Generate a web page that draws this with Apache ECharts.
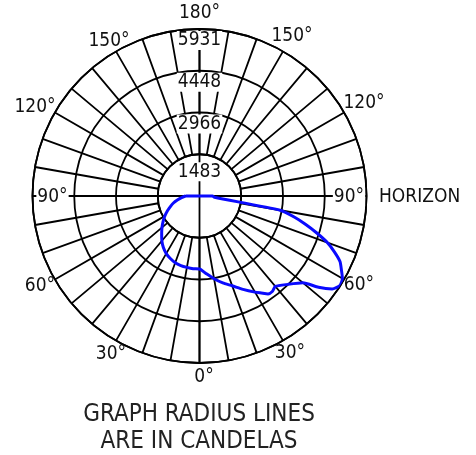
<!DOCTYPE html>
<html>
<head>
<meta charset="utf-8">
<script src="https://cdn.jsdelivr.net/npm/echarts@6/dist/echarts.min.js"></script>
<style>
  html, body { margin: 0; padding: 0; background: #fff; }
  #chart { width: 476px; height: 455px; }
</style>
</head>
<body>
<div id="chart"></div>
<script>
// Vertical angle (degrees from nadir) and luminous intensity (cd), house side (left half)
const houseAngles  = [0, 5, 10, 15, 20, 25, 30, 35, 40, 45, 50, 55, 60, 65, 70, 75, 80, 85, 90];
const houseCandela = [2593, 2593, 2575, 2557, 2522, 2451, 2362, 2237, 2078, 1900, 1740, 1580, 1421, 1261, 1101, 959, 799, 639, 497];

// Street side (right half)
const streetAngles  = [0, 5, 10, 15, 20, 25, 30, 32.5, 35, 37.5, 40, 45, 50, 52.5, 55, 57.5, 60, 62.5, 65, 67.5, 70, 72.5, 75, 77.5, 80, 85, 90];
const streetCandela = [2593, 2770, 2983, 3196, 3392, 3658, 3942, 4084, 4244, 4262, 4191, 4439, 4795, 5327, 5753, 5913, 5860, 5682, 5505, 5185, 4830, 4368, 3907, 3445, 2912, 533, 462];

// Candela rings
const ringMax = 5931;
const ringCount = 4;
const ringStep = ringMax / ringCount;

// Angle tick labels around the dial
const angleTickLabels = ['0°', '30°', '60°', '90°', '120°', '150°', '180°'];

const FONT = '"DejaVu Sans Condensed", "DejaVu Sans", sans-serif';
const INK = '#111';
const CX = 199.5, CY = 196, R = 167;
const GRID_W = 1.8;

// Closed outline: house side from horizon down to nadir, then street side back up to horizon
const outline = [];
for (let i = houseAngles.length - 1; i >= 0; i--) {
  outline.push([houseCandela[i], 360 - houseAngles[i]]);
}
for (let i = 1; i < streetAngles.length; i++) {
  outline.push([streetCandela[i], streetAngles[i]]);
}
outline.push(outline[0]);

// Where each angle label sits (index into angleTickLabels, centre x/y)
const labelSpots = [
  [6, 199.5, 13],
  [5, 109, 41], [5, 292, 36],
  [4, 35, 107], [4, 364, 103],
  [3, 52.5, 197], [3, 349, 197],
  [2, 40, 286], [2, 359, 285],
  [1, 111, 354], [1, 290, 353],
  [0, 204, 377]
];

const textEls = labelSpots.map(([k, x, y]) => ({
  type: 'text', x, y, z: 10,
  style: {
    text: angleTickLabels[k], fontSize: 19, fontFamily: FONT, fill: INK,
    align: 'center', verticalAlign: 'middle',
    backgroundColor: k === 3 ? '#fff' : null, padding: k === 3 ? [0, 1] : 0
  }
}));
textEls.push(
  { type: 'text', x: 379, y: 197, z: 10,
    style: { text: 'HORIZON', fontSize: 19, fontFamily: FONT, fill: INK, align: 'left', verticalAlign: 'middle' } },
  { type: 'text', x: 199, y: 415, z: 10,
    style: { text: 'GRAPH RADIUS LINES', fontSize: 24, fontFamily: FONT, fill: '#222', align: 'center', verticalAlign: 'middle' } },
  { type: 'text', x: 199, y: 442, z: 10,
    style: { text: 'ARE IN CANDELAS', fontSize: 24, fontFamily: FONT, fill: '#222', align: 'center', verticalAlign: 'middle' } }
);

const chart = echarts.init(document.getElementById('chart'), null, { renderer: 'canvas' });
chart.setOption({
  animation: false,
  backgroundColor: '#fff',
  polar: [
    { center: [CX, CY], radius: [R / ringCount, R] },   // dial grid: spokes start at first ring
    { center: [CX, CY], radius: [0, R] }                // intensity plot
  ],
  angleAxis: [
    {
      polarIndex: 0, type: 'value', min: 0, max: 360, interval: 10, startAngle: 90, z: 1,
      axisLine: { show: true, lineStyle: { color: '#000', width: GRID_W } },
      axisTick: { show: false }, axisLabel: { show: false },
      splitLine: { show: true, lineStyle: { color: '#000', width: GRID_W } }
    },
    {
      polarIndex: 1, type: 'value', min: 0, max: 360, interval: 90, startAngle: 270, clockwise: false, z: 1,
      axisLine: { show: false }, axisTick: { show: false }, axisLabel: { show: false },
      splitLine: { show: true, lineStyle: { color: '#000', width: GRID_W } }
    }
  ],
  radiusAxis: [
    {
      polarIndex: 0, type: 'value', min: ringStep, max: ringMax, interval: ringStep, z: 2,
      axisLine: { show: false }, axisTick: { show: false },
      splitLine: { show: true, lineStyle: { color: '#000', width: GRID_W } },
      axisLabel: {
        show: true, margin: 0, align: 'center', verticalAlign: 'top',
        formatter: v => (v < ringMax / 2 ? '{gapNear| }' : '{gapFar| }') + '\n{num|' + Math.round(v) + '}',
        rich: {
          gapNear: { fontSize: 1, lineHeight: 8 },
          gapFar: { fontSize: 1, lineHeight: 2 },
          num: { fontSize: 19, fontFamily: FONT, color: INK, lineHeight: 19, backgroundColor: '#fff', padding: [0, 1] }
        }
      }
    },
    { polarIndex: 1, type: 'value', min: 0, max: ringMax, show: false }
  ],
  series: [
    {
      type: 'line', coordinateSystem: 'polar', polarIndex: 1, z: 5,
      data: outline, smooth: 0.2, symbol: 'none',
      lineStyle: { color: '#0a0aff', width: 3 }
    }
  ],
  graphic: { elements: textEls }
});
</script>
</body>
</html>
